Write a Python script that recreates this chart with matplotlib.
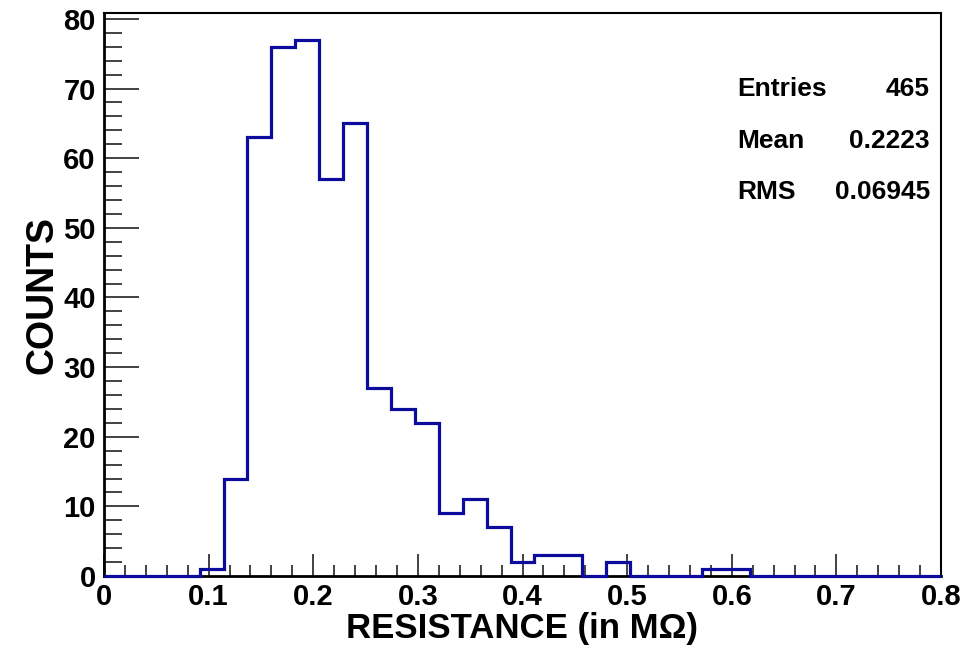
import matplotlib
matplotlib.use("Agg")
import matplotlib.pyplot as plt
import numpy as np
from matplotlib.ticker import MultipleLocator

# ---- data ----
x_min, x_max, n_bins = 0.0, 0.8, 35
counts = [0, 0, 0, 0, 1, 14, 63, 76, 77, 57, 65, 27, 24, 22, 9, 11, 7, 2, 3, 3,
          0, 2, 0, 0, 0, 1, 1, 0, 0, 0, 0, 0, 0, 0, 0]
stat_names = ["Entries", "Mean", "RMS"]
stat_values = ["465", "0.2223", "0.06945"]
x_label = "RESISTANCE (in M\u03a9)"
y_label = "COUNTS"

edges = np.linspace(x_min, x_max, n_bins + 1)

plt.rcParams['font.family'] = ['Liberation Sans', 'DejaVu Sans']
plt.rcParams['font.weight'] = 'bold'

fig = plt.figure(figsize=(9.68, 6.5), dpi=100)
ax = fig.add_axes([104/968, 1-576/650, (941-104)/968, (576-13)/650])

ax.stairs(counts, edges, color='#0b0b9c', lw=2.3, zorder=5, clip_on=False)

ax.set_xlim(x_min, x_max)
ax.set_ylim(0, max(counts) * 1.05)

ax.xaxis.set_major_locator(MultipleLocator(0.1))
ax.xaxis.set_minor_locator(MultipleLocator(0.02))
ax.yaxis.set_major_locator(MultipleLocator(10))
ax.yaxis.set_minor_locator(MultipleLocator(2))
ax.xaxis.set_major_formatter(plt.FuncFormatter(lambda v, p: '0' if abs(v) < 1e-9 else f'{v:.1f}'))

ax.tick_params(axis='both', which='both', direction='in', top=False, right=False,
               labelsize=21, width=1.3, color='#333333')
ax.tick_params(axis='x', which='major', length=16, pad=5)
ax.tick_params(axis='x', which='minor', length=8)
ax.tick_params(axis='y', which='major', length=25, pad=6)
ax.tick_params(axis='y', which='minor', length=13)
for lab in ax.get_xticklabels() + ax.get_yticklabels():
    lab.set_fontweight('bold')

for s in ['left', 'bottom']:
    ax.spines[s].set_linewidth(2.0)
for s in ['top', 'right']:
    ax.spines[s].set_linewidth(1.5)
for s in ax.spines.values():
    s.set_color('black')

ax.set_xlabel(x_label, fontsize=25, fontweight='bold', labelpad=1)
ax.set_ylabel(y_label, fontsize=27, fontweight='bold', labelpad=2)

ys = [0.865, 0.773, 0.682]
for name, val, yy in zip(stat_names, stat_values, ys):
    ax.text(0.756, yy, name, transform=ax.transAxes, fontsize=19, fontweight='bold',
            ha='left', va='center')
    ax.text(0.987, yy, val, transform=ax.transAxes, fontsize=19, fontweight='bold',
            ha='right', va='center')

fig.savefig('out.png', dpi=100)
